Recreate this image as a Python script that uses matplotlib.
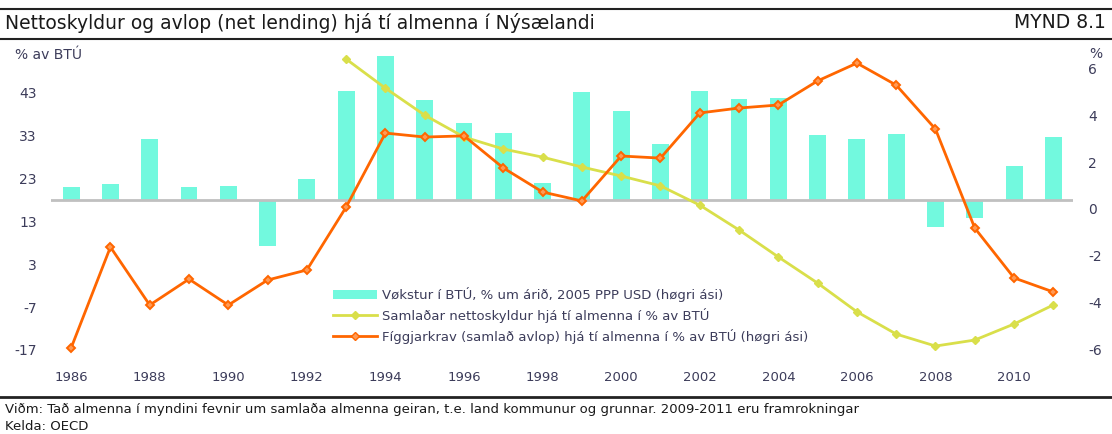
import matplotlib
matplotlib.use("Agg")
import matplotlib.pyplot as plt
from matplotlib.transforms import ScaledTranslation
from matplotlib.patches import Patch
from matplotlib.lines import Line2D

plt.rcParams['font.family'] = ['DejaVu Sans']

years = list(range(1986, 2012))
gdp_growth = [0.56, 0.68, 2.61, 0.56, 0.60, -1.95, 0.90, 4.66, 6.15, 4.27, 3.29, 2.86, 0.73,
              4.62, 3.80, 2.39, 4.66, 4.32, 4.36, 2.78, 2.61, 2.82, -1.14, -0.76, 1.45, 2.69]
net_debt_years = list(range(1993, 2012))
net_debt = [50.9, 44.1, 37.8, 32.7, 29.9, 28.0, 25.7, 23.6, 21.3, 16.8, 11.0, 4.7, -1.4,
            -8.1, -13.3, -16.1, -14.7, -10.95, -6.5]
net_lending = [-6.32, -2.01, -4.49, -3.38, -4.49, -3.42, -2.99, -0.30, 2.86, 2.69, 2.74, 1.37,
               0.34, -0.04, 1.88, 1.79, 3.72, 3.93, 4.06, 5.09, 5.85, 4.91, 3.03, -1.20, -3.33, -3.93]
left_ticks = [-17, -7, 3, 13, 23, 33, 43]
right_ticks = [-6, -4, -2, 0, 2, 4, 6]
xtick_years = list(range(1986, 2011, 2))

title = "Nettoskyldur og avlop (net lending) hjá tí almenna í Nýsælandi"
fig_no = "MYND 8.1"
lab_bar = "Vøkstur í BTÚ, % um árið, 2005 PPP USD (høgri ási)"
lab_yel = "Samlaðar nettoskyldur hjá tí almenna í % av BTÚ"
lab_or = "Fíggjarkrav (samlað avlop) hjá tí almenna í % av BTÚ (høgri ási)"
note1 = "Viðm: Tað almenna í myndini fevnir um samlaða almenna geiran, t.e. land kommunur og grunnar. 2009-2011 eru framrokningar"
note2 = "Kelda: OECD"

C_BAR = '#72F9DE'
C_OR = '#FF6600'
C_YEL = '#D9DF4A'
C_TXT = '#3C3C5A'

W, H = 1112, 434
fig = plt.figure(figsize=(W / 100, H / 100), dpi=100)

def fx(px):
    return px / W

def fy(py):
    return 1 - py / H

ax_left, ax_right, ax_top, ax_bot = 51.5, 1073, 50, 360
rect = [fx(ax_left), fy(ax_bot), fx(ax_right - ax_left), (ax_bot - ax_top) / H]

ax = fig.add_axes(rect)            # bars (right scale)
axL = ax.twinx()                   # yellow (left scale)
axO = ax.twinx()                   # orange (right scale)

r_lim = (-(ax_bot - 200) / 23.4, (200 - ax_top) / 23.4)
l_lim = (18 - (ax_bot - 200) / 4.283, 18 + (200 - ax_top) / 4.283)

ax.bar(years, gdp_growth, width=0.43, color=C_BAR, zorder=2)
ax.axhline(0, color='#C0C0C0', lw=2, zorder=3)
ax.set_ylim(*r_lim)

axL.plot(net_debt_years, net_debt, color=C_YEL, lw=2, marker='D', ms=4.5,
         mfc=C_YEL, mec=C_YEL)
axL.set_ylim(*l_lim)

axO.plot(years, net_lending, color=C_OR, lw=2, marker='D', ms=4.2,
         mfc='#FF9A55', mec=C_OR, mew=1.4)
axO.set_ylim(*r_lim)

for a in (ax, axL, axO):
    for s in a.spines.values():
        s.set_visible(False)
    a.set_xlim(1985.5, 2011.5)

# x ticks
ax.set_xticks(xtick_years)
ax.set_xticklabels([str(y) for y in xtick_years])
ax.tick_params(axis='x', length=0, pad=8, labelsize=9.5, labelcolor=C_TXT)

# right ticks (on bar axis)
ax.yaxis.tick_right()
ax.set_yticks(right_ticks)
ax.set_yticklabels([str(t) for t in right_ticks])
ax.tick_params(axis='y', length=0, pad=11, labelsize=10, labelcolor=C_TXT)
off = ScaledTranslation(0, -0.09, fig.dpi_scale_trans)
for lab in ax.get_yticklabels():
    lab.set_transform(lab.get_transform() + off)

# left ticks
axL.yaxis.tick_left()
axL.set_yticks(left_ticks)
axL.set_yticklabels([str(t) for t in left_ticks])
axL.tick_params(axis='y', length=0, pad=10.5, labelsize=10, labelcolor=C_TXT)
axL.tick_params(axis='x', bottom=False, labelbottom=False)

axO.set_yticks([])
axO.tick_params(axis='x', bottom=False, labelbottom=False)

# legend
handles = [Patch(facecolor=C_BAR, edgecolor='none'),
           Line2D([], [], color=C_YEL, lw=2, marker='D', ms=4, mfc=C_YEL, mec=C_YEL),
           Line2D([], [], color=C_OR, lw=2, marker='D', ms=4, mfc='#FF9A55', mec=C_OR)]
leg = axO.legend(handles, [lab_bar, lab_yel, lab_or], loc='upper left',
                 bbox_to_anchor=(fx(333), fy(287)), bbox_transform=fig.transFigure,
                 frameon=False, fontsize=9.5, handlelength=3.3, handletextpad=0.4,
                 labelspacing=0.45, borderpad=0, borderaxespad=0)
for t in leg.get_texts():
    t.set_color(C_TXT)

# header / footer
fig.add_artist(Line2D([0, 1], [fy(9), fy(9)], color='#222222', lw=1.5, transform=fig.transFigure))
fig.add_artist(Line2D([0, 1], [fy(39), fy(39)], color='#222222', lw=1.5, transform=fig.transFigure))
fig.add_artist(Line2D([0, 1], [fy(397), fy(397)], color='#222222', lw=2, transform=fig.transFigure))
fig.text(fx(5), fy(23), title, fontsize=13.5, color='#1A1A1A', va='center', ha='left')
fig.text(fx(1106), fy(23), fig_no, fontsize=13.5, color='#1A1A1A', va='center', ha='right')
fig.text(fx(15), fy(55), "% av BTÚ", fontsize=10, color=C_TXT, va='center', ha='left')
fig.text(fx(1089), fy(54), "%", fontsize=10, color=C_TXT, va='center', ha='left')
fig.text(fx(5), fy(410), note1, fontsize=9.5, color='#1A1A1A', va='center', ha='left')
fig.text(fx(5), fy(427), note2, fontsize=9.5, color='#1A1A1A', va='center', ha='left')

fig.savefig("out.png", dpi=100)
